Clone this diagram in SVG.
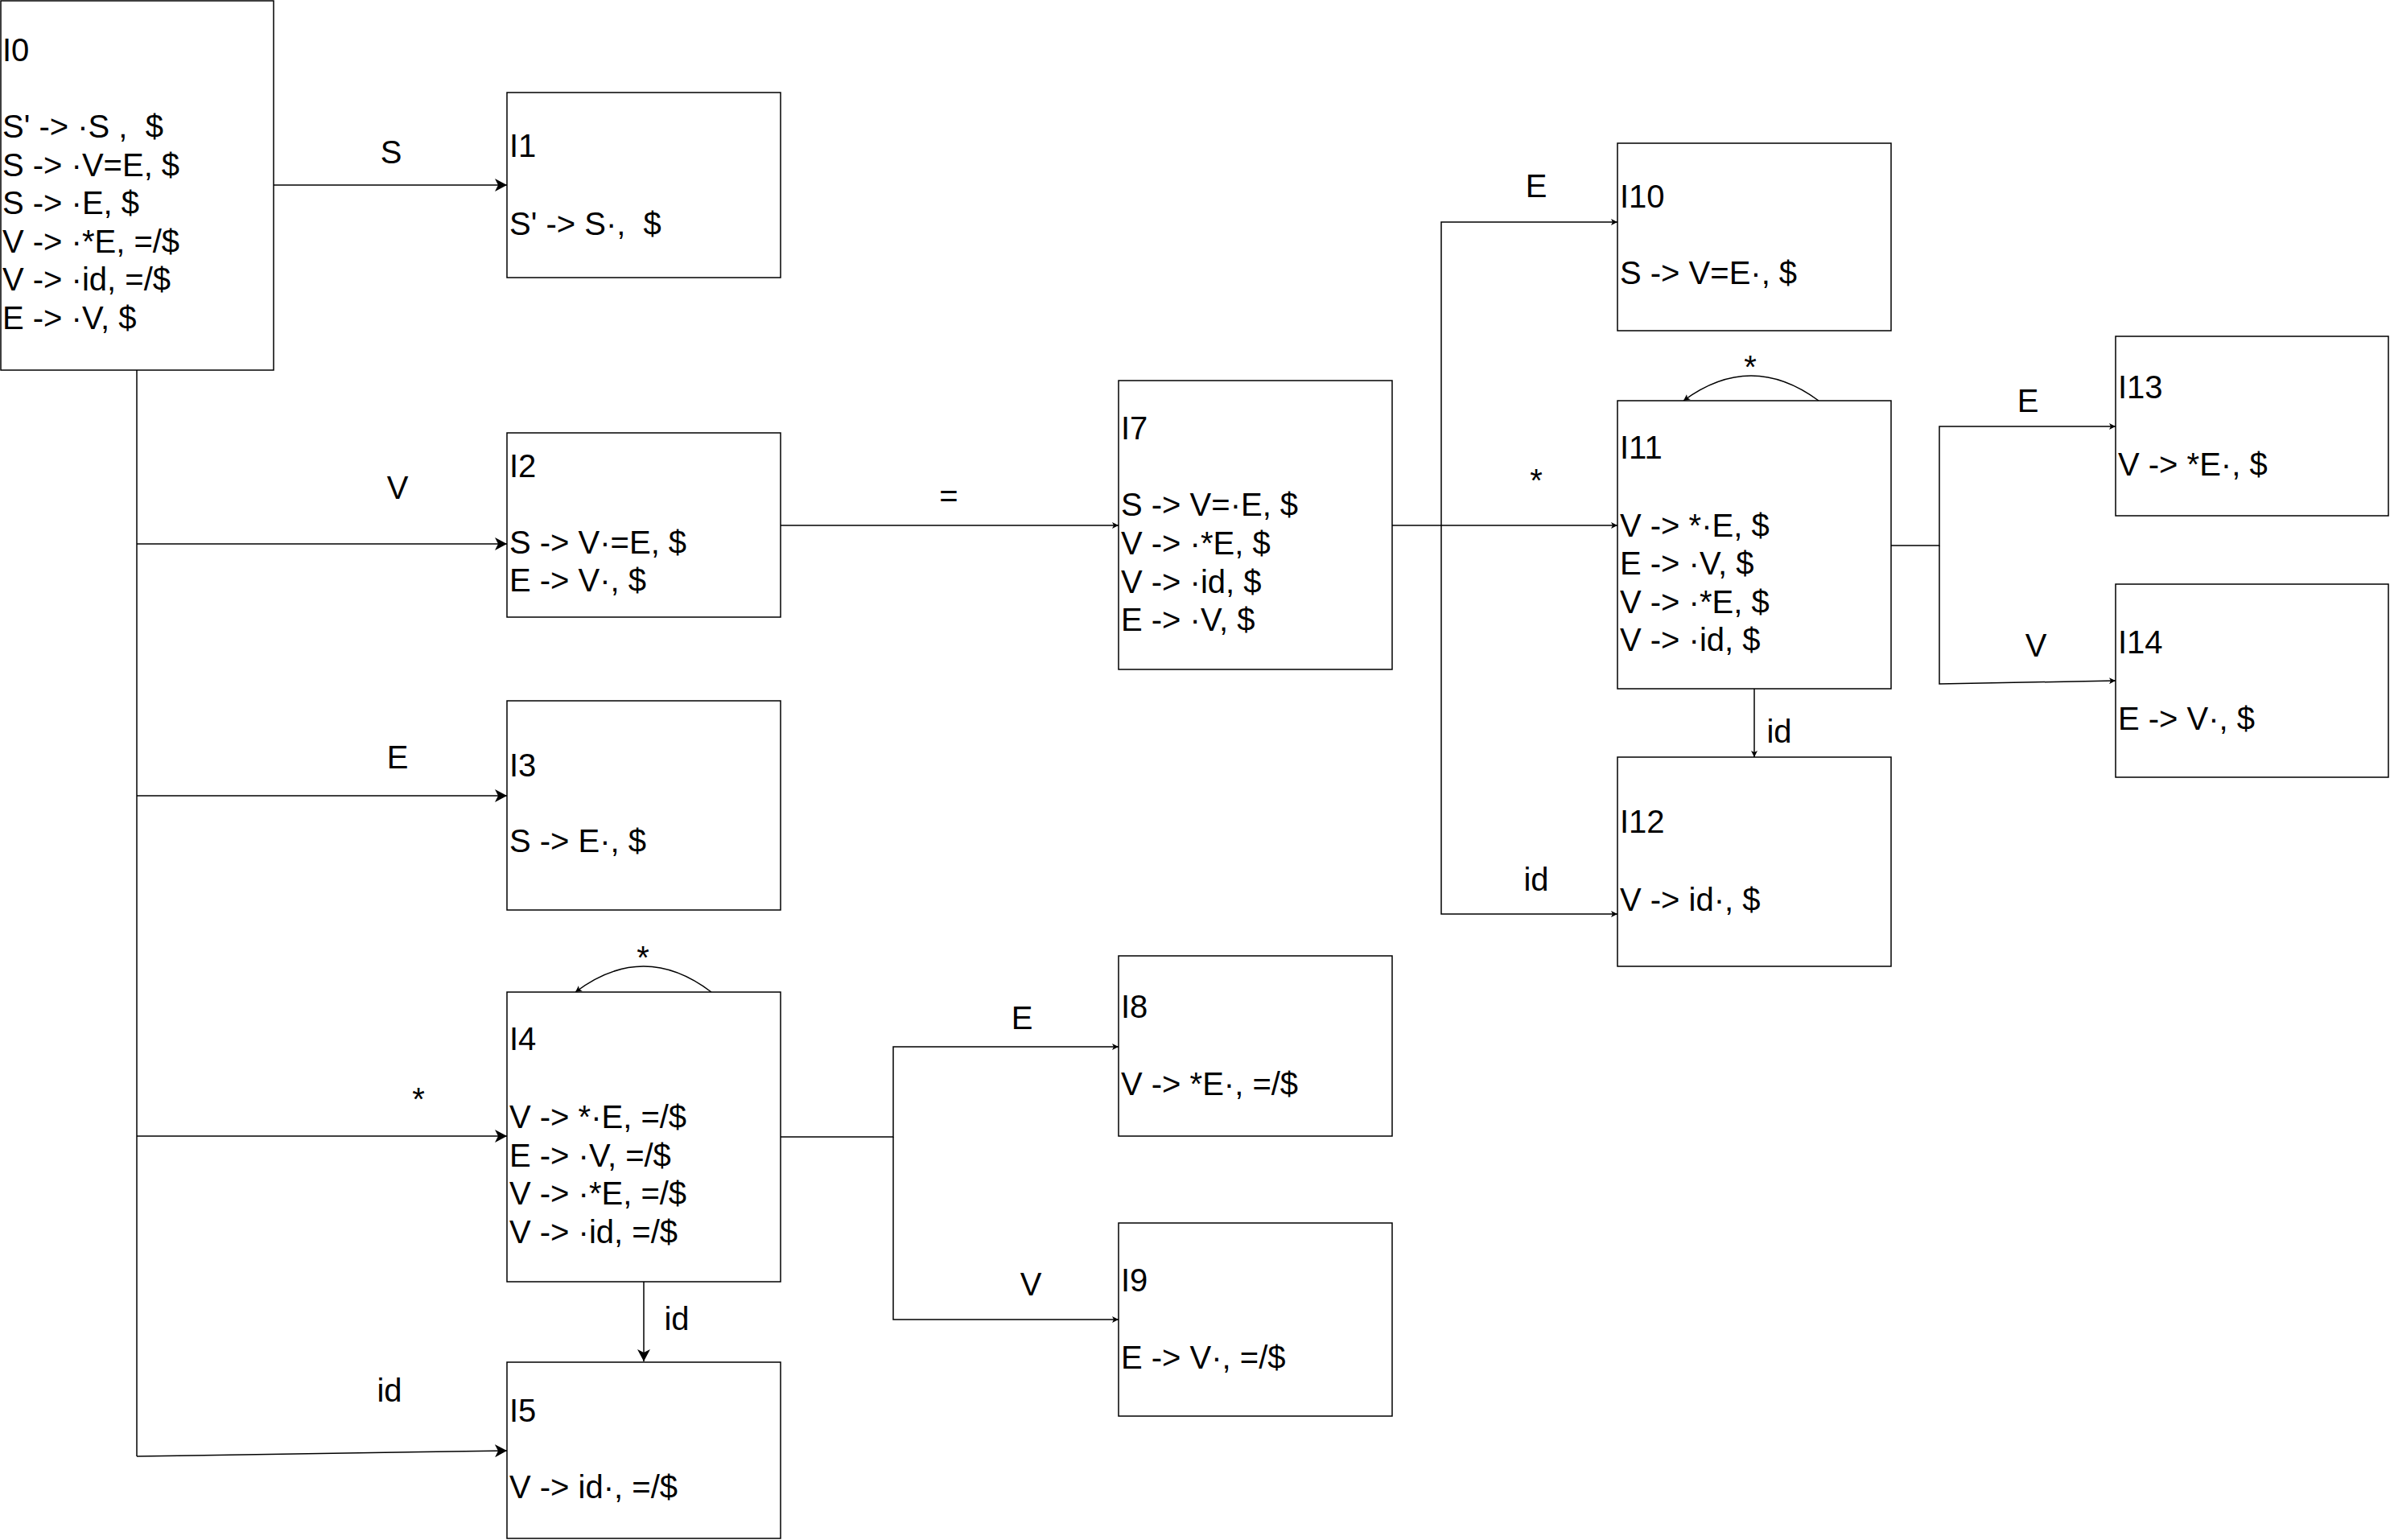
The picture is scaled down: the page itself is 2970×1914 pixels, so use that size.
<svg xmlns="http://www.w3.org/2000/svg" width="2970" height="1914" viewBox="0 0 2970 1914">
  <style>
    .box { fill: #ffffff; stroke: #000000; stroke-width: 1.5; }
    .t { font-family: "Liberation Sans", Arial, sans-serif; font-size: 40px; fill: #000000; white-space: pre; }
    .lbl { font-family: "Liberation Sans", Arial, sans-serif; font-size: 40px; fill: #000000; text-anchor: middle; white-space: pre; }
    .edge { fill: none; stroke: #000000; stroke-width: 1.5; }
    .big { marker-end: url(#arrowBig); }
    .small { marker-end: url(#arrowSmall); }
  </style>
  <defs>
    <marker id="arrowBig" markerUnits="userSpaceOnUse" viewBox="0 0 15 16" refX="15" refY="8" markerWidth="15" markerHeight="16" orient="auto">
      <path d="M0,0 L15,8 L0,16 L4,8 Z" fill="#000000"/>
    </marker>
    <marker id="arrowSmall" markerUnits="userSpaceOnUse" viewBox="0 0 8 8" refX="8" refY="4" markerWidth="8" markerHeight="8" orient="auto">
      <path d="M0,0 L8,4 L0,8 L2,4 Z" fill="#000000"/>
    </marker>
  </defs>
  <rect width="2970" height="1914" fill="#ffffff"/>

  <!-- transitions -->
  <g id="connectors">
    <!-- from I0 -->
    <path class="edge big" d="M340,230 H630"/>
    <path class="edge" d="M170,460 V1810"/>
    <path class="edge big" d="M170,676 H630"/>
    <path class="edge big" d="M170,989 H630"/>
    <path class="edge big" d="M170,1412 H630"/>
    <path class="edge big" d="M170,1810 L630,1803"/>
    <!-- from I4 -->
    <path class="edge small" d="M884,1233 Q800,1169 715,1233"/>
    <path class="edge big" d="M800,1593 V1692"/>
    <path class="edge small" d="M970,1413 H1110 V1301 H1390"/>
    <path class="edge small" d="M1110,1413 V1640 H1390"/>
    <!-- from I2 -->
    <path class="edge small" d="M970,653 H1390"/>
    <!-- from I7 -->
    <path class="edge small" d="M1730,653 H2010"/>
    <path class="edge small" d="M1791,653 V276 H2010"/>
    <path class="edge small" d="M1791,653 V1136 H2010"/>
    <!-- from I11 -->
    <path class="edge small" d="M2260,498 Q2176,436 2092,498"/>
    <path class="edge small" d="M2180,856 V941"/>
    <path class="edge small" d="M2350,678 H2410 V530 H2629"/>
    <path class="edge small" d="M2410,678 V850 L2629,846"/>

    <!-- transition symbols -->
    <text class="lbl" x="486" y="203">S</text>
    <text class="lbl" x="494" y="620">V</text>
    <text class="lbl" x="494" y="955">E</text>
    <text class="lbl" x="520" y="1380">*</text>
    <text class="lbl" x="484" y="1742">id</text>
    <text class="lbl" x="799" y="1204">*</text>
    <text class="lbl" x="841" y="1653">id</text>
    <text class="lbl" x="1270" y="1279">E</text>
    <text class="lbl" x="1281" y="1610">V</text>
    <text class="lbl" x="1179" y="630">=</text>
    <text class="lbl" x="1909" y="245">E</text>
    <text class="lbl" x="1909" y="611">*</text>
    <text class="lbl" x="1909" y="1107">id</text>
    <text class="lbl" x="2175" y="470">*</text>
    <text class="lbl" x="2211" y="923">id</text>
    <text class="lbl" x="2520" y="512">E</text>
    <text class="lbl" x="2530" y="816">V</text>
  </g>

  <!-- item sets -->
  <g id="I0">
    <rect class="box" x="1" y="1" width="339" height="459"/>
    <text class="t" x="3" y="76">I0</text>
    <text class="t" x="3" y="171">S' -&gt; ·S ,  $</text>
    <text class="t" x="3" y="218.5">S -&gt; ·V=E, $</text>
    <text class="t" x="3" y="266">S -&gt; ·E, $</text>
    <text class="t" x="3" y="313.5">V -&gt; ·*E, =/$</text>
    <text class="t" x="3" y="361">V -&gt; ·id, =/$</text>
    <text class="t" x="3" y="408.5">E -&gt; ·V, $</text>
  </g>
  <g id="I1">
    <rect class="box" x="630" y="115" width="340" height="230"/>
    <text class="t" x="633" y="195">I1</text>
    <text class="t" x="633" y="292">S' -&gt; S·,  $</text>
  </g>
  <g id="I2">
    <rect class="box" x="630" y="538" width="340" height="229"/>
    <text class="t" x="633" y="593">I2</text>
    <text class="t" x="633" y="688">S -&gt; V·=E, $</text>
    <text class="t" x="633" y="735">E -&gt; V·, $</text>
  </g>
  <g id="I3">
    <rect class="box" x="630" y="871" width="340" height="260"/>
    <text class="t" x="633" y="965">I3</text>
    <text class="t" x="633" y="1059">S -&gt; E·, $</text>
  </g>
  <g id="I4">
    <rect class="box" x="630" y="1233" width="340" height="360"/>
    <text class="t" x="633" y="1305">I4</text>
    <text class="t" x="633" y="1402">V -&gt; *·E, =/$</text>
    <text class="t" x="633" y="1449.5">E -&gt; ·V, =/$</text>
    <text class="t" x="633" y="1497">V -&gt; ·*E, =/$</text>
    <text class="t" x="633" y="1544.5">V -&gt; ·id, =/$</text>
  </g>
  <g id="I5">
    <rect class="box" x="630" y="1693" width="340" height="219"/>
    <text class="t" x="633" y="1767">I5</text>
    <text class="t" x="633" y="1862">V -&gt; id·, =/$</text>
  </g>
  <g id="I7">
    <rect class="box" x="1390" y="473" width="340" height="359"/>
    <text class="t" x="1393" y="546">I7</text>
    <text class="t" x="1393" y="641">S -&gt; V=·E, $</text>
    <text class="t" x="1393" y="689">V -&gt; ·*E, $</text>
    <text class="t" x="1393" y="736.5">V -&gt; ·id, $</text>
    <text class="t" x="1393" y="784">E -&gt; ·V, $</text>
  </g>
  <g id="I8">
    <rect class="box" x="1390" y="1188" width="340" height="224"/>
    <text class="t" x="1393" y="1265">I8</text>
    <text class="t" x="1393" y="1361">V -&gt; *E·, =/$</text>
  </g>
  <g id="I9">
    <rect class="box" x="1390" y="1520" width="340" height="240"/>
    <text class="t" x="1393" y="1605">I9</text>
    <text class="t" x="1393" y="1701">E -&gt; V·, =/$</text>
  </g>
  <g id="I10">
    <rect class="box" x="2010" y="178" width="340" height="233"/>
    <text class="t" x="2013" y="258">I10</text>
    <text class="t" x="2013" y="353">S -&gt; V=E·, $</text>
  </g>
  <g id="I11">
    <rect class="box" x="2010" y="498" width="340" height="358"/>
    <text class="t" x="2013" y="570">I11</text>
    <text class="t" x="2013" y="666.5">V -&gt; *·E, $</text>
    <text class="t" x="2013" y="714">E -&gt; ·V, $</text>
    <text class="t" x="2013" y="761.5">V -&gt; ·*E, $</text>
    <text class="t" x="2013" y="809">V -&gt; ·id, $</text>
  </g>
  <g id="I12">
    <rect class="box" x="2010" y="941" width="340" height="260"/>
    <text class="t" x="2013" y="1035">I12</text>
    <text class="t" x="2013" y="1132">V -&gt; id·, $</text>
  </g>
  <g id="I13">
    <rect class="box" x="2629" y="418" width="339" height="223"/>
    <text class="t" x="2632" y="495">I13</text>
    <text class="t" x="2632" y="591">V -&gt; *E·, $</text>
  </g>
  <g id="I14">
    <rect class="box" x="2629" y="726" width="339" height="240"/>
    <text class="t" x="2632" y="812">I14</text>
    <text class="t" x="2632" y="907">E -&gt; V·, $</text>
  </g>
</svg>
